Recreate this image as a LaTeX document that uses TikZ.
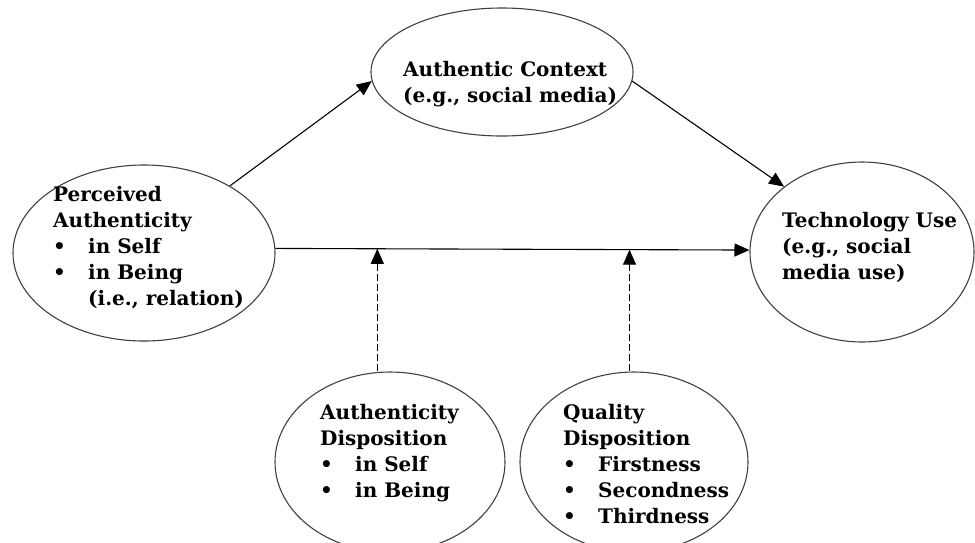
\documentclass[tikz,border=0pt]{standalone}
\usepackage{fontspec}
\setmainfont{DejaVu Serif}
\usetikzlibrary{arrows.meta,shapes.geometric}

\newcommand{\itembullet}{\makebox[35pt][l]{\textbullet}}

\begin{document}
\begin{tikzpicture}[x=1pt,y=-1pt,>={Triangle[length=15pt,width=13pt]}]
        \tikzset{
            oval/.style= {
                draw=black!75,
                line width=1.1pt,
                shape=ellipse,
                inner sep=0pt
            },
            words/.style= {
                anchor=north west,
                inner sep=0pt,
                align=left,
                font=\bfseries\fontsize{20}{26}\selectfont
            },
            link/.style={->, line width=1.1pt},
            moderator/.style={->, line width=1.1pt, dash pattern=on 7pt off 3pt},
        }
\useasboundingbox (0,0) rectangle (975,542);
        \node [oval, minimum width=262pt, minimum height=176pt] (perceived) at (144,253) {};
        \node [oval, minimum width=262pt, minimum height=128pt] (context) at (502,72) {};
        \node [oval, minimum width=224pt, minimum height=180pt] (techuse) at (862,252) {};
        \node [oval, minimum width=230pt, minimum height=180pt] (authdisp) at (390,462) {};
        \node [oval, minimum width=228pt, minimum height=180pt] (qualdisp) at (634,462) {};
%% texts
        \node [words] (perceived text) at (53,186)
            {Perceived\\Authenticity\\\itembullet in Self\\\itembullet in Being\\\hspace*{35pt}(i.e., relation)};
        \node [words] (context text) at (403,61)
            {Authentic Context\\(e.g., social media)};
        \node [words] (techuse text) at (782,212)
            {Technology Use\\(e.g., social\\media use)};
        \node [words] (authdisp text) at (320,404)
            {Authenticity\\Disposition\\\itembullet in Self\\\itembullet in Being};
        \node [words] (qualdisp text) at (563,404)
            {Quality\\Disposition\\\itembullet Firstness\\\itembullet Secondness\\\itembullet Thirdness};
%% paths
\draw [link] (perceived.2) -- coordinate[pos=0.215] (authdisp tip) coordinate[pos=0.747] (qualdisp tip) (techuse.179.5);
\path
    (perceived.38) edge[link] (context.184.5)
    (context.356) edge[link] (techuse.140.5)
;
\draw [moderator] (authdisp tip |- authdisp.north) -- (authdisp tip);
\draw [moderator] (qualdisp tip |- qualdisp.north) -- (qualdisp tip);
\end{tikzpicture}
\end{document}
